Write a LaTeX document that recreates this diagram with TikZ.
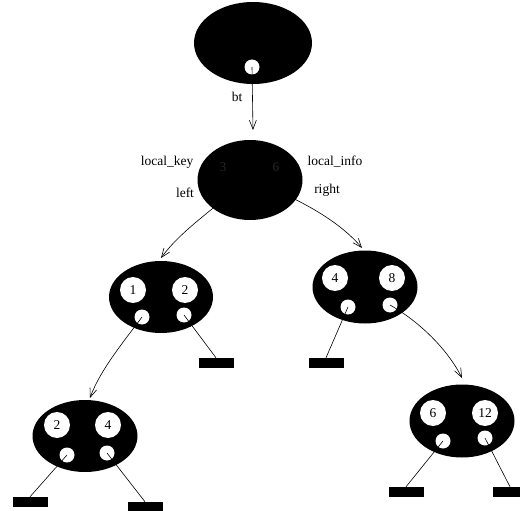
\documentclass[tikz,border=0pt]{standalone}
\usepackage{fontspec}
\setmainfont{Liberation Serif}
\usetikzlibrary{shapes.geometric,arrows.meta}
\definecolor{darkdigit}{gray}{0.15}
\tikzset{
  x=1pt,y=-1pt,
  blob/.style={ellipse,fill=black,draw=none,inner sep=0pt},
  keyc/.style={circle,fill=white,draw=none,minimum size=26pt,inner sep=0pt,font=\fontsize{13.5}{15}\selectfont},
  ptr/.style={circle,fill=white,draw=none,minimum size=15pt,inner sep=0pt},
  nil/.style={rectangle,fill=black,draw=none,minimum width=35pt,minimum height=10pt,inner sep=0pt},
  lbl/.style={font=\fontsize{13.5}{15}\selectfont,inner sep=0pt},
  link/.style={draw=black,line width=0.6pt},
  arr/.style={link,-{Straight Barb[length=9pt,width=7pt]}}
}
\begin{document}
\begin{tikzpicture}
\useasboundingbox (0,0) rectangle (520,511);
% root
\node[blob,minimum width=118pt,minimum height=82pt] (root) at (253,43) {};
\node[ptr] (rootp) at (252,67) {};
% middle
\node[blob,minimum width=105pt,minimum height=80pt] (mid) at (250,180) {};
\node[lbl,text=darkdigit] (m3) at (223,167) {3};
\node[lbl,text=darkdigit] (m6) at (276,167) {6};
\coordinate (mL) at (232,192);
\coordinate (mR) at (275,190);
\node[lbl] (lk) at (167,162) {local\_key};
\node[lbl] (li) at (335,162) {local\_info};
\node[lbl] (ll) at (185,193) {left};
\node[lbl] (lr) at (327,190) {right};
\node[lbl] (bt) at (237,97) {bt};
% left child
\node[blob,minimum width=104pt,minimum height=72pt] (A) at (161,297) {};
\node[keyc] (A1) at (133,290) {1};
\node[keyc] (A2) at (185,290) {2};
\node[ptr] (Ap1) at (142,317) {};
\node[ptr] (Ap2) at (184,315) {};
\node[nil] (An2) at (216,363) {};
% right child
\node[blob,minimum width=105pt,minimum height=73pt] (B) at (365,287) {};
\node[keyc] (B1) at (335,278) {4};
\node[keyc] (B2) at (392,278) {8};
\node[ptr] (Bp1) at (348,307) {};
\node[ptr] (Bp2) at (390,305) {};
\node[nil] (Bn1) at (326,363) {};
% bottom left
\node[blob,minimum width=105pt,minimum height=72pt] (C) at (85,436) {};
\node[keyc] (C1) at (57,425) {2};
\node[keyc] (C2) at (108,425) {4};
\node[ptr] (Cp1) at (67,455) {};
\node[ptr] (Cp2) at (107,453) {};
\node[nil] (Cn1) at (30,502) {};
\node[nil] (Cn2) at (145,507) {};
% bottom right
\node[blob,minimum width=105pt,minimum height=73pt] (D) at (462,421) {};
\node[keyc] (D1) at (433,413) {6};
\node[keyc] (D2) at (485,413) {12};
\node[ptr] (Dp1) at (443,441) {};
\node[ptr] (Dp2) at (485,438) {};
\node[nil] (Dn1) at (406,492) {};
\node[nil] (Dn2) at (510,492) {};
% connectors
\draw[arr] (rootp.center) -- (253,130);
\draw[arr] (mL) .. controls (210,212) and (180,232) .. (161,258);
\draw[arr] (mR) .. controls (305,203) and (340,222) .. (362,248);
\draw[arr] (Ap1.center) .. controls (125,340) and (100,370) .. (90,398);
\draw[arr] (Bp2.center) .. controls (420,322) and (448,350) .. (462,378);
\draw[link] (Ap2.center) -- (An2.north);
\draw[link] (Bp1.center) -- (Bn1.north);
\draw[link] (Cp1.center) -- (Cn1.north);
\draw[link] (Cp2.center) -- (Cn2.north);
\draw[link] (Dp1.center) -- (Dn1.north);
\draw[link] (Dp2.center) -- (Dn2.north);
\end{tikzpicture}
\end{document}
